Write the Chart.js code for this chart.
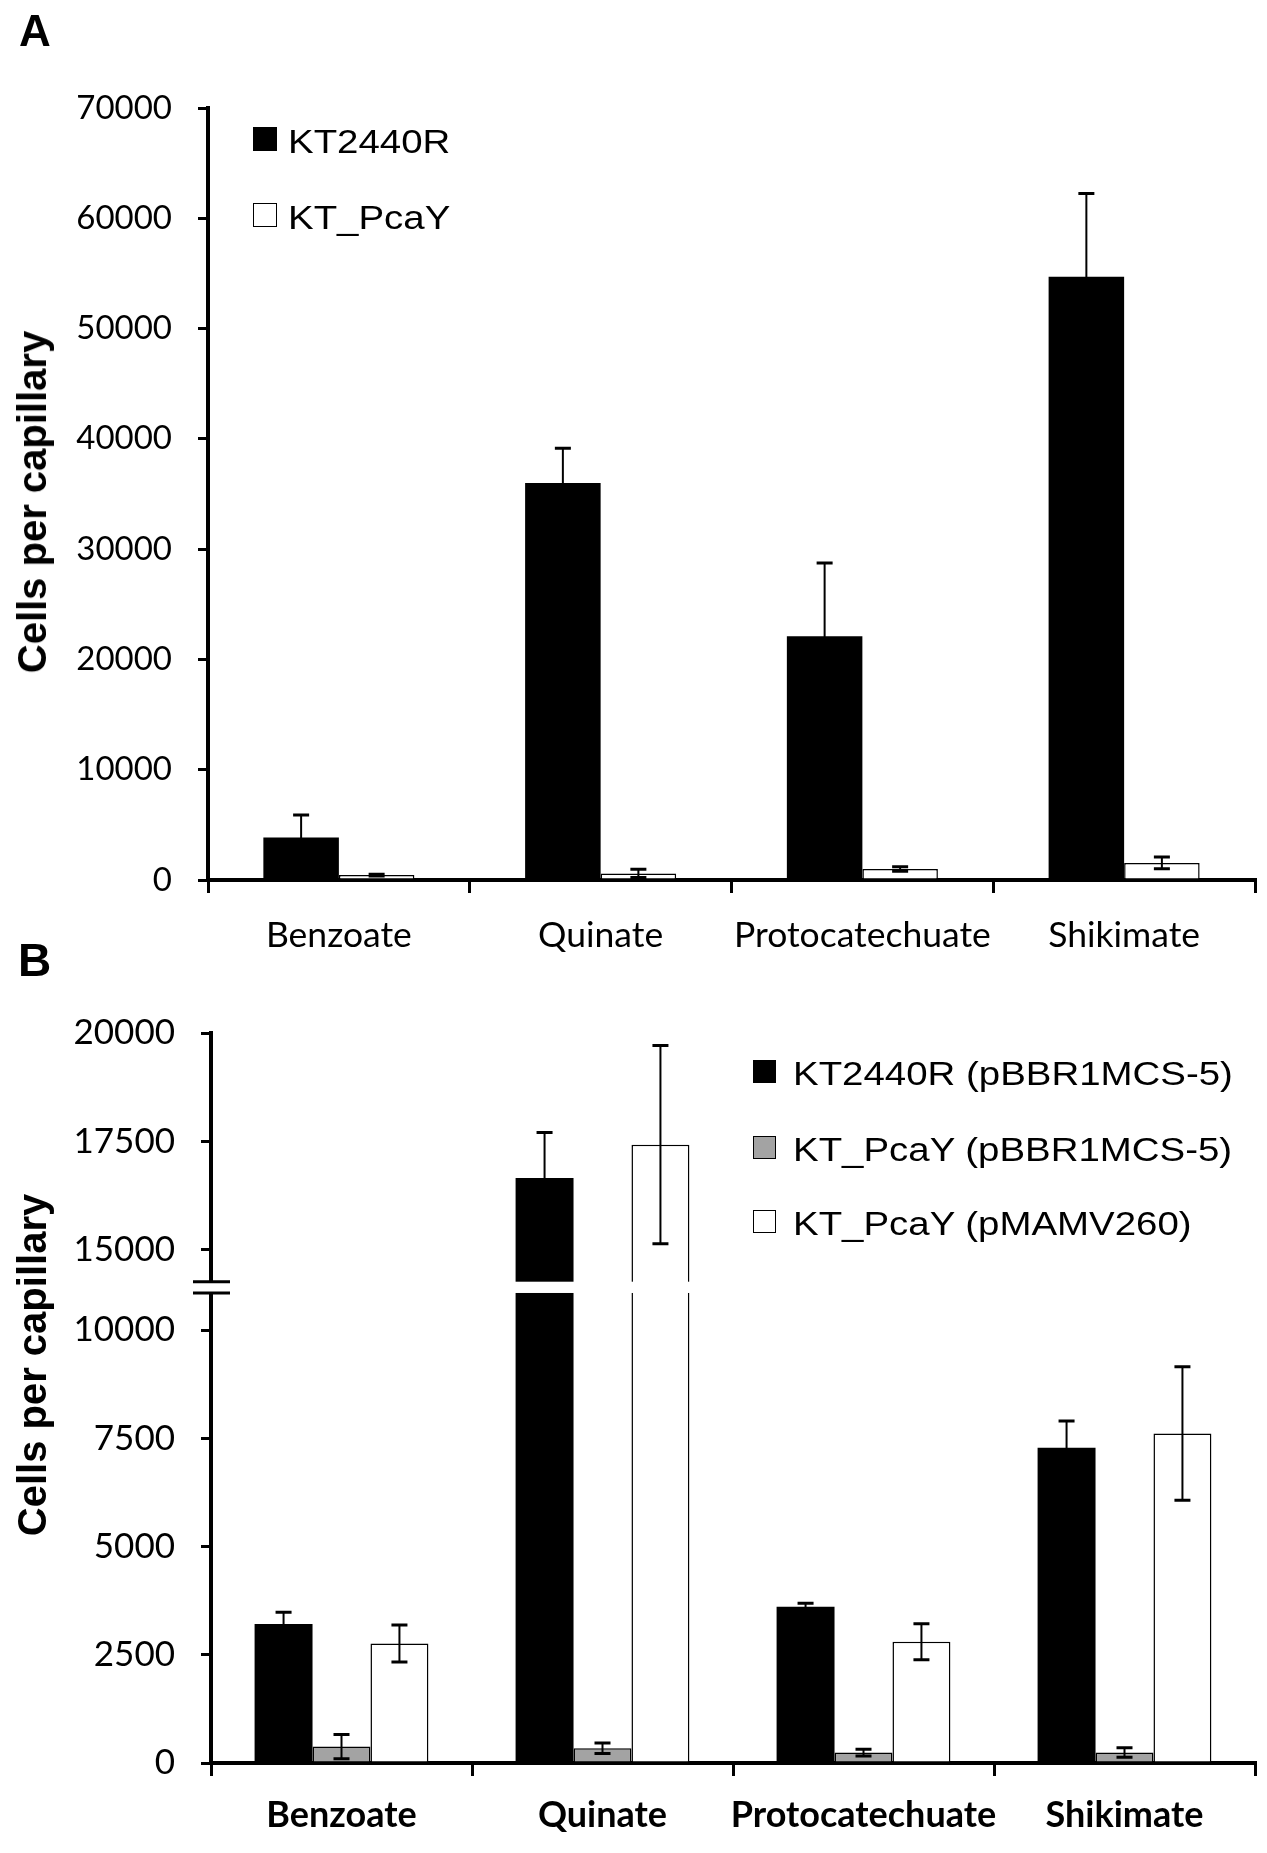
<!DOCTYPE html>
<html><head><meta charset="utf-8">
<script src="https://cdn.jsdelivr.net/npm/chart.js@4.4.1/dist/chart.umd.min.js"></script>
<style>
html,body{margin:0;padding:0;background:#fff;}
body{width:1267px;height:1853px;position:relative;overflow:hidden;}
.wrap{position:absolute;left:0;width:1267px;}
#wa{top:0;height:970px;}
#wb{top:970px;height:883px;}
canvas{display:block;}
.panel{position:absolute;font-family:'Liberation Sans',Arial,sans-serif;font-weight:bold;color:#000;}
.ytitle{position:absolute;font-family:'Liberation Sans',Arial,sans-serif;font-weight:bold;font-size:40px;line-height:40px;white-space:nowrap;transform:translate(-50%,-50%) rotate(-90deg);color:#000;}
.leg{position:absolute;font-family:'Liberation Sans',Arial,sans-serif;font-size:34px;color:#000;}
.leg .row{position:absolute;left:0;display:flex;align-items:center;white-space:nowrap;height:40px;line-height:40px;transform:translateY(-50%);}
.leg .box{box-sizing:border-box;border:1.5px solid #000;flex:none;}
.leg .txt{display:inline-block;transform:scaleX(1.13);transform-origin:0 50%;position:relative;top:2px;}
</style></head>
<body>
<div class="wrap" id="wa"><canvas id="ca" width="1267" height="970"></canvas></div>
<div class="wrap" id="wb"><canvas id="cb" width="1267" height="883"></canvas></div>
<div class="panel" style="left:19px;top:9px;font-size:44px;line-height:44px;">A</div>
<div class="panel" style="left:18px;top:937px;font-size:46px;line-height:46px;">B</div>
<div class="ytitle" style="left:32px;top:502px;">Cells per capillary</div>
<div class="ytitle" style="left:32px;top:1365px;">Cells per capillary</div>
<div class="leg" id="legA" style="left:253px;top:0px;"></div>
<div class="leg" id="legB" style="left:753px;top:0px;"></div>
<script>
// ---------- data ----------
const categories = ['Benzoate', 'Quinate', 'Protocatechuate', 'Shikimate'];

// Panel A
const seriesA = ['KT2440R', 'KT_PcaY'];
const a_KT2440R     = [3850, 36000, 22100, 54700];
const a_KT2440R_err = [2050, 3150, 6650, 7550];
const a_KT_PcaY     = [450, 600, 1000, 1550];
const a_KT_PcaY_err = [80, 380, 200, 530];
const ticksA = [0, 10000, 20000, 30000, 40000, 50000, 60000, 70000];

// Panel B
const seriesB = ['KT2440R (pBBR1MCS-5)', 'KT_PcaY (pBBR1MCS-5)', 'KT_PcaY (pMAMV260)'];
const b_KT2440R_pBBR     = [3210, 16650, 3610, 7280];
const b_KT2440R_pBBR_err = [270, 1050, 80, 620];
const b_PcaY_pBBR        = [380, 340, 240, 240];
const b_PcaY_pBBR_err    = [280, 120, 80, 110];
const b_PcaY_pMAMV       = [2760, 17420, 2800, 7610];
const b_PcaY_pMAMV_err   = [430, 2290, 415, 1540];
const ticksB = [0, 2500, 5000, 7500, 10000, 15000, 17500, 20000];
const breakB = [10000, 15000];   // broken (compressed) value range on the B axis

// ---------- styling ----------
const BREAK_FACTOR = 0.372;       // how much the broken range is compressed
const GAP_B = [12300, 13000];     // white gap drawn inside the broken range
const colorsA = ['#000000', '#ffffff'];
const colorsB = ['#000000', '#a3a3a3', '#ffffff'];

// ---------- broken linear scale ----------
const LinearScale = Chart.LinearScale || Chart.registry.getScale('linear');
class BrokenLinearScale extends LinearScale {
  tf(v) {
    const [b0, b1] = breakB;
    if (v <= b0) return v;
    if (v <= b1) return b0 + (v - b0) * BREAK_FACTOR;
    return b0 + (b1 - b0) * BREAK_FACTOR + (v - b1);
  }
  inv(t) {
    const [b0, b1] = breakB;
    const tb1 = b0 + (b1 - b0) * BREAK_FACTOR;
    if (t <= b0) return t;
    if (t <= tb1) return b0 + (t - b0) / BREAK_FACTOR;
    return b1 + (t - tb1);
  }
  getPixelForValue(v) {
    if (v === undefined || v === null || isNaN(v)) return NaN;
    const a = this.tf(this.min), b = this.tf(this.max);
    return this.getPixelForDecimal((this.tf(v) - a) / (b - a));
  }
  getValueForPixel(p) {
    const d = this.getDecimalForPixel(p);
    const a = this.tf(this.min), b = this.tf(this.max);
    return this.inv(a + d * (b - a));
  }
}
BrokenLinearScale.id = 'brokenLinear';
BrokenLinearScale.defaults = LinearScale.defaults;
Chart.register(BrokenLinearScale);

// ---------- plugins ----------
const errorBars = {
  id: 'errorBars',
  afterDatasetsDraw(chart) {
    const ctx = chart.ctx, ys = chart.scales.y;
    chart.data.datasets.forEach((ds, i) => {
      if (!ds.errors) return;
      const meta = chart.getDatasetMeta(i);
      meta.data.forEach((bar, j) => {
        const v = ds.data[j], e = ds.errors[j];
        const yt = ys.getPixelForValue(v + e);
        const yb = ys.getPixelForValue(Math.max(0, v - e));
        const x = bar.x;
        ctx.save();
        ctx.strokeStyle = '#000';
        ctx.lineWidth = 2;
        ctx.beginPath(); ctx.moveTo(x, yt); ctx.lineTo(x, yb); ctx.stroke();
        ctx.lineWidth = 3;
        ctx.beginPath();
        ctx.moveTo(x - 8, yt); ctx.lineTo(x + 8, yt);
        ctx.moveTo(x - 8, yb); ctx.lineTo(x + 8, yb);
        ctx.stroke();
        ctx.restore();
      });
    });
  }
};

const axisBreak = {
  id: 'axisBreak',
  afterDraw(chart) {
    const ys = chart.scales.y, ca = chart.chartArea, ctx = chart.ctx;
    const y1 = ys.getPixelForValue(GAP_B[1]);
    const y2 = ys.getPixelForValue(GAP_B[0]);
    ctx.save();
    ctx.fillStyle = '#fff';
    ctx.fillRect(ca.left - 4, y1, ca.right - ca.left + 4, y2 - y1);
    ctx.strokeStyle = '#000';
    ctx.lineWidth = 3;
    ctx.beginPath();
    ctx.moveTo(ca.left - 18, y1); ctx.lineTo(ca.left + 19, y1);
    ctx.moveTo(ca.left - 18, y2); ctx.lineTo(ca.left + 19, y2);
    ctx.stroke();
    ctx.restore();
  }
};

// ---------- common axis helpers ----------
function xAxis(bold, size, height, padding) {
  return {
    grid: { display: true, drawOnChartArea: false, offset: true, tickLength: 13, lineWidth: 3, color: '#000' },
    border: { display: true, width: 4, color: '#000' },
    ticks: { color: '#000', padding: padding, autoSkip: false, maxRotation: 0, minRotation: 0,
             font: { family: 'Lato', size: size, weight: bold ? 'bold' : 'normal' } },
    afterFit: s => { s.height = height; }
  };
}
function yAxis(type, tickVals, min, max, width, padding, size) {
  return {
    type: type, min: min, max: max,
    grid: { display: true, drawOnChartArea: false, tickLength: 10, lineWidth: 3, color: '#000' },
    border: { display: true, width: 4, color: '#000' },
    ticks: { color: '#000', padding: padding, autoSkip: false, font: { family: 'Lato', size: size },
             callback: v => String(v) },
    afterBuildTicks: s => { s.ticks = tickVals.map(v => ({ value: v })); },
    afterFit: s => { s.width = width; }
  };
}

// ---------- chart A ----------
new Chart(document.getElementById('ca'), {
  type: 'bar',
  data: {
    labels: categories,
    datasets: [
      { label: seriesA[0], data: a_KT2440R, errors: a_KT2440R_err, backgroundColor: colorsA[0], borderColor: '#000', borderWidth: 0 },
      { label: seriesA[1], data: a_KT_PcaY, errors: a_KT_PcaY_err, backgroundColor: colorsA[1], borderColor: '#000', borderWidth: 1.5 }
    ]
  },
  options: {
    responsive: false, animation: false,
    layout: { padding: { top: 108, right: 12, left: 0, bottom: 0 } },
    plugins: { legend: { display: false }, tooltip: { enabled: false } },
    datasets: { bar: { categoryPercentage: 0.577, barPercentage: 1 } },
    scales: {
      x: xAxis(false, 35.5, 90, 21),
      y: yAxis('linear', ticksA, 0, 70000, 208, 26, 33)
    }
  },
  plugins: [errorBars]
});

// ---------- chart B ----------
new Chart(document.getElementById('cb'), {
  type: 'bar',
  data: {
    labels: categories,
    datasets: [
      { label: seriesB[0], data: b_KT2440R_pBBR, errors: b_KT2440R_pBBR_err, backgroundColor: colorsB[0], borderColor: '#000', borderWidth: 0 },
      { label: seriesB[1], data: b_PcaY_pBBR, errors: b_PcaY_pBBR_err, backgroundColor: colorsB[1], borderColor: '#000', borderWidth: 1.5 },
      { label: seriesB[2], data: b_PcaY_pMAMV, errors: b_PcaY_pMAMV_err, backgroundColor: colorsB[2], borderColor: '#000', borderWidth: 1.5 }
    ]
  },
  options: {
    responsive: false, animation: false,
    layout: { padding: { top: 63, right: 12, left: 0, bottom: 0 } },
    plugins: { legend: { display: false }, tooltip: { enabled: false } },
    datasets: { bar: { categoryPercentage: 0.666, barPercentage: 1 } },
    scales: {
      x: xAxis(true, 36, 90, 18),
      y: yAxis('brokenLinear', ticksB, 0, 20000, 211, 26, 35)
    }
  },
  plugins: [errorBars, axisBreak]
});

// ---------- HTML legends ----------
function buildLegend(el, labels, colors, centers, box, gap) {
  labels.forEach((lab, i) => {
    const row = document.createElement('div');
    row.className = 'row';
    row.style.top = centers[i] + 'px';
    const b = document.createElement('span');
    b.className = 'box';
    b.style.width = box + 'px'; b.style.height = box + 'px';
    b.style.background = colors[i];
    b.style.marginRight = gap + 'px';
    const t = document.createElement('span');
    t.className = 'txt';
    t.textContent = lab;
    row.appendChild(b); row.appendChild(t);
    el.appendChild(row);
  });
}
buildLegend(document.getElementById('legA'), seriesA, colorsA, [139, 215], 24, 11);
buildLegend(document.getElementById('legB'), seriesB, colorsB, [1071, 1147, 1221], 23, 17);
</script>
</body></html>
